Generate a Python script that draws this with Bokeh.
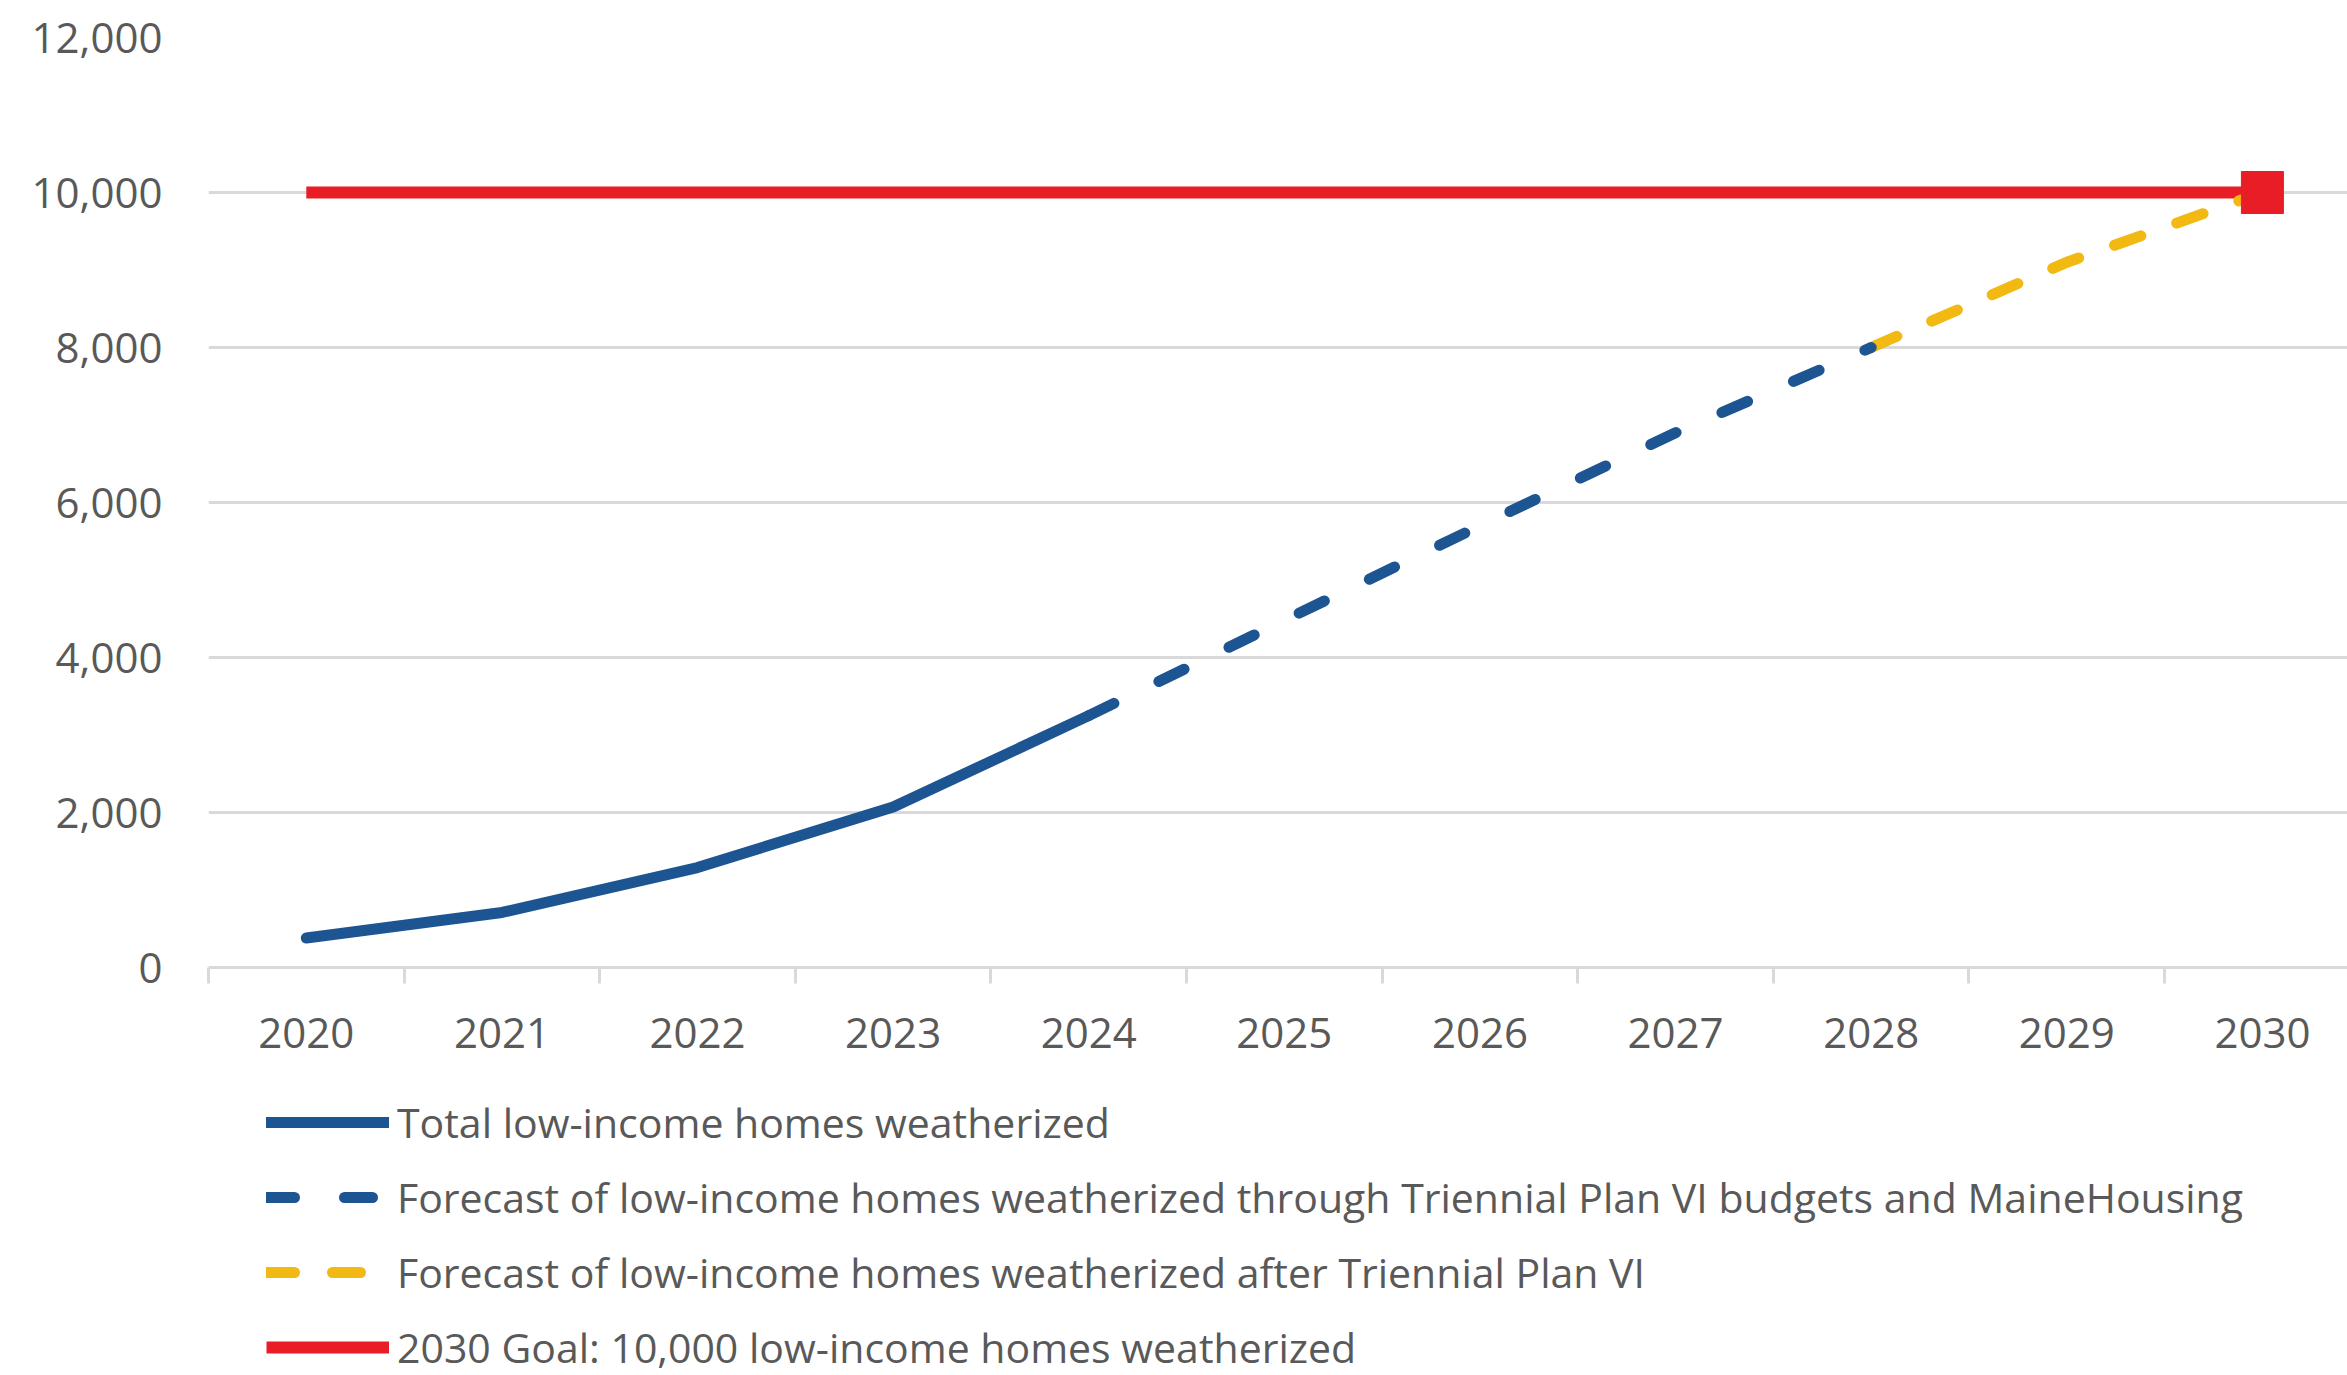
from bokeh.plotting import figure
from bokeh.layouts import column
from bokeh.models import Range1d, FixedTicker, NumeralTickFormatter, Legend, LegendItem
from bokeh.embed import file_html
from bokeh.resources import INLINE

# ---- data ----
years_actual = [2020, 2021, 2022, 2023, 2024]
homes_actual = [380, 710, 1290, 2070, 3250]

years_fc_plan = [2024, 2025, 2026, 2027, 2028]
homes_fc_plan = [3250, 4480, 5700, 6900, 8000]

years_fc_after = [2028, 2029, 2030]
homes_fc_after = [8000, 9100, 10000]

goal_years = [2020, 2021, 2022, 2023, 2024, 2025, 2026, 2027, 2028, 2029, 2030]
goal_values = [10000] * len(goal_years)
goal_marker_year = [2030]
goal_marker_value = [10000]

year_labels = ["2020", "2021", "2022", "2023", "2024", "2025", "2026", "2027", "2028", "2029", "2030"]
y_ticks = [0, 2000, 4000, 6000, 8000, 10000, 12000]

legend_labels = [
    "Total low-income homes weatherized",
    "Forecast of low-income homes weatherized through Triennial Plan VI budgets and MaineHousing",
    "Forecast of low-income homes weatherized after Triennial Plan VI",
    "2030 Goal: 10,000 low-income homes weatherized",
]

BLUE = "#1D5593"
YELLOW = "#F2B912"
RED = "#E91D25"
GRAY_TXT = "#595959"
GRID = "#D9D9D9"
FONT = "Open Sans"

styles = [
    dict(line_color=BLUE, line_width=11, line_cap="round", line_join="round"),
    dict(line_color=BLUE, line_width=11, line_dash="28 50", line_cap="round"),
    dict(line_color=YELLOW, line_width=11, line_dash="28 38", line_cap="round"),
    dict(line_color=RED, line_width=12),
]
series = [
    (years_actual, homes_actual),
    (years_fc_plan, homes_fc_plan),
    (years_fc_after, homes_fc_after),
    (goal_years, goal_values),
]

# ---------------- main chart ----------------
p = figure(width=2347, height=1078, output_backend="svg", toolbar_location=None,
           x_range=Range1d(2019.5, 2030.435), y_range=Range1d(0, 12000),
           min_border_left=208, min_border_right=0, min_border_top=37, min_border_bottom=111)
p.outline_line_color = None
p.background_fill_color = "white"
p.border_fill_color = "white"

for i in (3, 2, 1, 0):
    p.line(series[i][0], series[i][1], **styles[i])
p.scatter(goal_marker_year, goal_marker_value, marker="square", size=42,
          fill_color=RED, line_color=RED)

xa = p.xaxis[0]
xa.ticker = FixedTicker(ticks=[int(y) for y in year_labels],
                        minor_ticks=[int(y) - 0.5 for y in year_labels] + [2030.5])
xa.major_label_overrides = {int(y): y for y in year_labels}
xa.major_tick_line_color = None
xa.major_tick_out = 0
xa.major_tick_in = 0
xa.minor_tick_line_color = GRID
xa.minor_tick_line_width = 3
xa.minor_tick_out = 16
xa.minor_tick_in = 0
xa.axis_line_color = GRID
xa.axis_line_width = 3
xa.major_label_text_font = FONT
xa.major_label_text_font_size = "42px"
xa.major_label_text_color = GRAY_TXT
xa.major_label_standoff = 34

ya = p.yaxis[0]
ya.ticker = FixedTicker(ticks=y_ticks)
ya.formatter = NumeralTickFormatter(format="0,0")
ya.axis_line_color = None
ya.major_tick_line_color = None
ya.minor_tick_line_color = None
ya.major_tick_out = 0
ya.major_label_text_font = FONT
ya.major_label_text_font_size = "42px"
ya.major_label_text_color = GRAY_TXT
ya.major_label_standoff = 46

p.xgrid.grid_line_color = None
p.ygrid.ticker = FixedTicker(ticks=y_ticks)
p.ygrid.grid_line_color = GRID
p.ygrid.grid_line_width = 3

# ---------------- legend strip ----------------
# same series drawn outside the visible range, so only their legend swatches show
lg = figure(width=2347, height=297, output_backend="svg", toolbar_location=None,
            x_axis_location=None, y_axis_location=None,
            x_range=Range1d(0, 1), y_range=Range1d(0, 1),
            min_border_left=0, min_border_right=0, min_border_top=0, min_border_bottom=0)
lg.outline_line_color = None
lg.grid.visible = False
lg.border_fill_color = "white"

legend_renderers = [lg.line(xs, ys, **s) for (xs, ys), s in zip(series, styles)]

legend = Legend(items=[LegendItem(label=lab, renderers=[r])
                       for lab, r in zip(legend_labels, legend_renderers)],
                location=(58, 0), orientation="vertical")
legend.border_line_color = None
legend.background_fill_alpha = 0
legend.label_text_font = FONT
legend.label_text_font_size = "41px"
legend.label_text_color = GRAY_TXT
legend.glyph_width = 123
legend.glyph_height = 56
legend.label_height = 56
legend.label_standoff = 8
legend.spacing = 19
legend.padding = 0
legend.margin = 0
lg.add_layout(legend)

layout = column(p, lg, spacing=0)
open("out.html", "w").write(file_html(layout, INLINE))
